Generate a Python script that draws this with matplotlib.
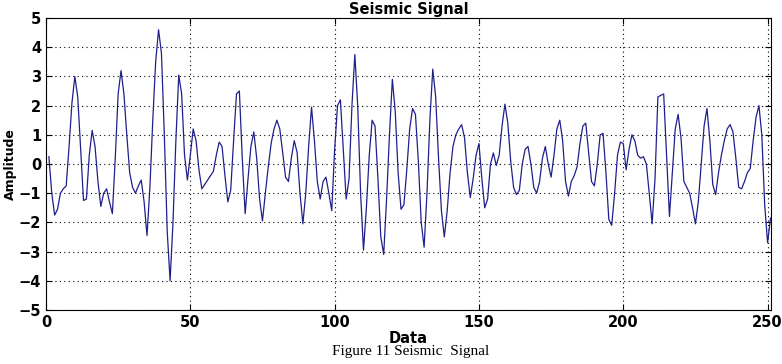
import numpy as np
import matplotlib.pyplot as plt

# sample values (x = 1..251)
amplitude = [
    0.25, -1.0, -1.75, -1.55, -1.0, -0.85, -0.75, 0.6, 2.1, 3.0,
    2.3, 0.5, -1.25, -1.2, 0.3, 1.15, 0.6, -0.6, -1.45, -1.0,
    -0.85, -1.3, -1.7, 0.2, 2.4, 3.2, 2.4, 1.0, -0.3, -0.8,
    -1.0, -0.75, -0.55, -1.3, -2.45, -0.8, 1.5, 3.5, 4.6, 3.8,
    1.0, -2.3, -4.0, -2.0, 0.8, 3.05, 2.4, 0.3, -0.55, 0.3,
    1.2, 0.8, -0.2, -0.85, -0.7, -0.55, -0.4, -0.25, 0.3, 0.75,
    0.6, -0.4, -1.3, -0.9, 0.8, 2.4, 2.5, 0.2, -1.7, -0.5,
    0.6, 1.1, 0.2, -1.2, -1.95, -1.0, -0.1, 0.7, 1.2, 1.5,
    1.2, 0.4, -0.45, -0.6, 0.2, 0.8, 0.4, -1.0, -2.05, -1.0,
    0.6, 1.95, 0.8, -0.6, -1.2, -0.6, -0.45, -1.0, -1.6, 0.5,
    2.0, 2.2, 0.5, -1.2, -0.5, 2.0, 3.75, 2.0, -1.0, -2.95,
    -1.5, 0.3, 1.5, 1.3, -0.5, -2.5, -3.1, -1.2, 1.0, 2.9,
    1.8, -0.3, -1.55, -1.4, -0.2, 1.2, 1.9, 1.7, 0.1, -2.0,
    -2.85, -1.0, 1.5, 3.25, 2.3, 0.2, -1.6, -2.5, -1.6, -0.3,
    0.6, 1.0, 1.2, 1.35, 0.9, -0.3, -1.15, -0.5, 0.3, 0.7,
    -0.5, -1.5, -1.2, 0.0, 0.38, -0.05, 0.3, 1.3, 2.05, 1.4,
    0.1, -0.8, -1.05, -0.9, 0.0, 0.5, 0.6, 0.0, -0.8, -1.0,
    -0.6, 0.2, 0.6, 0.0, -0.45, 0.3, 1.2, 1.5, 0.8, -0.6,
    -1.1, -0.6, -0.4, -0.1, 0.7, 1.3, 1.4, 0.4, -0.6, -0.75,
    0.0, 1.0, 1.05, -0.3, -1.9, -2.1, -1.0, 0.3, 0.75, 0.7,
    -0.2, 0.5, 1.0, 0.8, 0.3, 0.2, 0.25, 0.0, -1.0, -2.05,
    -0.5, 2.3, 2.35, 2.4, 0.3, -1.8, -0.3, 1.2, 1.7, 0.9,
    -0.6, -0.8, -1.0, -1.5, -2.05, -1.3, 0.0, 1.3, 1.9, 0.8,
    -0.7, -1.05, -0.3, 0.3, 0.8, 1.2, 1.35, 1.1, 0.2, -0.8,
    -0.85, -0.6, -0.3, -0.15, 0.8, 1.6, 2.0, 1.0, -1.4, -2.7,
    -1.85,
]
data_index = np.arange(1, len(amplitude) + 1)

xticks = [0, 50, 100, 150, 200, 250]
yticks = [-5, -4, -3, -2, -1, 0, 1, 2, 3, 4, 5]

fig = plt.figure(figsize=(7.82, 3.64), dpi=100)
ax = fig.add_axes([0.0588, 0.1484, 0.9272, 0.8021])

ax.plot(data_index, amplitude, color='#1f1f8c', linewidth=0.9)

ax.set_xlim(0, 251.2)
ax.set_ylim(-5, 5)
ax.set_xticks(xticks)
ax.set_yticks(yticks)
ax.tick_params(direction='in', top=True, right=True, length=4, width=0.8)
for lbl in ax.get_xticklabels() + ax.get_yticklabels():
    lbl.set_fontweight('bold')
    lbl.set_fontsize(10.5)
ax.grid(True, linestyle=(0, (1, 3)), color='black', linewidth=0.8)

ax.set_title('Seismic Signal', fontsize=10.5, fontweight='bold', pad=3)
ax.set_xlabel('Data', fontsize=10.5, fontweight='bold', labelpad=1)
ax.set_ylabel('Amplitude', fontsize=9, fontweight='bold')
ax.yaxis.set_label_coords(-0.04, 0.5)

fig.text(0.525, 0.033, 'Figure 11 Seismic  Signal', ha='center', va='center',
         fontsize=11, family='Liberation Serif')

fig.savefig('out.png', dpi=100)
